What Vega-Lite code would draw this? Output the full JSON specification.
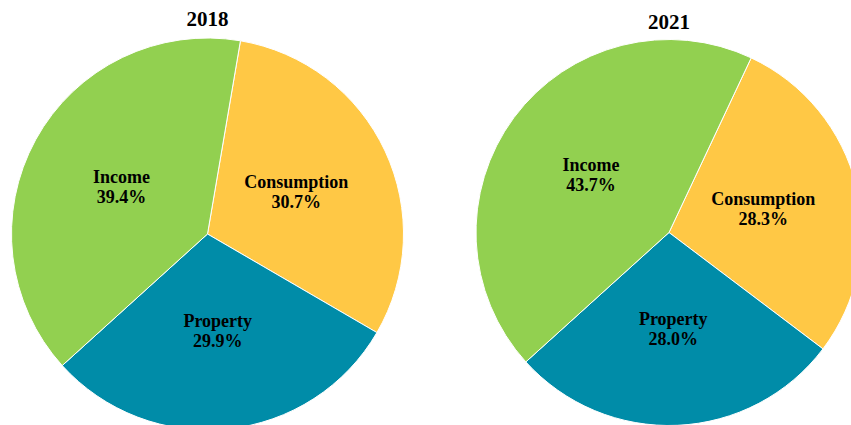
{
  "$schema": "https://vega.github.io/schema/vega-lite/v6.json",
  "padding": {"top": 9, "left": 0, "right": 0, "bottom": 0},
  "spacing": 59,
  "background": "white",
  "config": {
    "view": {"stroke": null},
    "title": {"font": "Liberation Serif", "fontSize": 21, "fontWeight": "bold", "color": "black", "anchor": "middle", "offset": 4}
  },
  "datasets": {
    "y2018": [
      {"category": "Consumption", "share": 30.7, "rank": 1},
      {"category": "Property", "share": 29.9, "rank": 2},
      {"category": "Income", "share": 39.4, "rank": 3}
    ],
    "y2021": [
      {"category": "Consumption", "share": 28.3, "rank": 1},
      {"category": "Property", "share": 28.0, "rank": 2},
      {"category": "Income", "share": 43.7, "rank": 3}
    ]
  },
  "hconcat": [
    {
      "width": 415,
      "height": 400,
      "title": {"text": "2018"},
      "data": {"name": "y2018"},
      "transform": [{"calculate": "datum.category + '\\n' + format(datum.share, '.1f') + '%'", "as": "label"}],
      "encoding": {
        "theta": {"field": "share", "type": "quantitative", "stack": true, "scale": {"range": [0.169, 6.452]}},
        "order": {"field": "rank", "type": "quantitative"}
      },
      "layer": [
        {
          "mark": {"type": "arc", "outerRadius": 196, "stroke": "white", "strokeWidth": 1},
          "encoding": {
            "color": {"field": "category", "type": "nominal", "legend": null,
              "scale": {"domain": ["Income", "Consumption", "Property"], "range": ["#92D050", "#FFC845", "#008CA8"]}}
          }
        },
        {
          "mark": {"type": "text", "radius": 98, "dy": -9, "font": "Liberation Serif", "fontSize": 18, "fontWeight": "bold", "lineBreak": "\n", "lineHeight": 20, "color": "black"},
          "encoding": {"text": {"field": "label"}}
        }
      ]
    },
    {
      "width": 390,
      "height": 397,
      "title": {"text": "2021", "dy": 3},
      "data": {"name": "y2021"},
      "transform": [{"calculate": "datum.category + '\\n' + format(datum.share, '.1f') + '%'", "as": "label"}],
      "encoding": {
        "theta": {"field": "share", "type": "quantitative", "stack": true, "scale": {"range": [0.44, 6.723]}},
        "order": {"field": "rank", "type": "quantitative"}
      },
      "layer": [
        {
          "mark": {"type": "arc", "outerRadius": 193, "stroke": "white", "strokeWidth": 1},
          "encoding": {
            "color": {"field": "category", "type": "nominal", "legend": null,
              "scale": {"domain": ["Income", "Consumption", "Property"], "range": ["#92D050", "#FFC845", "#008CA8"]}}
          }
        },
        {
          "mark": {"type": "text", "radius": 97, "dy": -9, "font": "Liberation Serif", "fontSize": 18, "fontWeight": "bold", "lineBreak": "\n", "lineHeight": 20, "color": "black"},
          "encoding": {"text": {"field": "label"}}
        }
      ]
    }
  ]
}
